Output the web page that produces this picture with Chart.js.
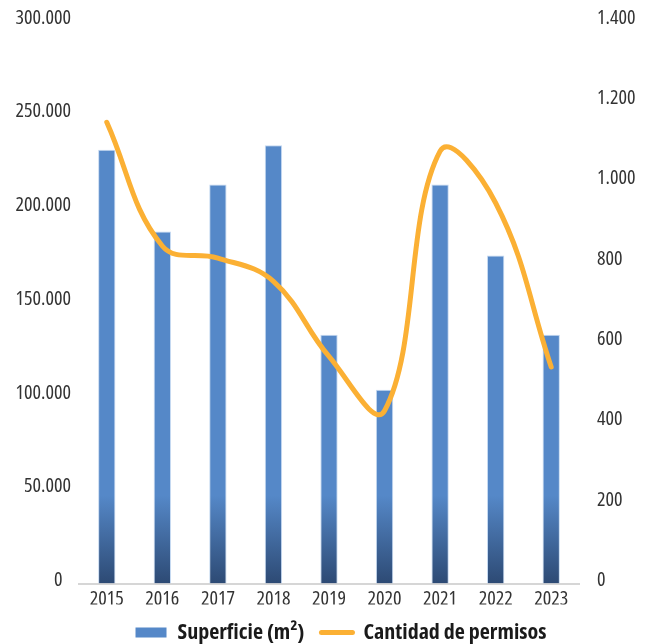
<!DOCTYPE html>
<html>
<head>
<meta charset="utf-8">
<script src="https://cdn.jsdelivr.net/npm/chart.js@4"></script>
<style>
  html, body { margin: 0; padding: 0; background: #ffffff; }
  #wrap { position: relative; width: 652px; height: 644px; }
</style>
</head>
<body>
<div id="wrap"><canvas id="c" width="652" height="644"></canvas></div>
<script>
const years = ['2015','2016','2017','2018','2019','2020','2021','2022','2023'];
const superficie = [231400, 187800, 212800, 233700, 132700, 103300, 212800, 175000, 132700];
const permisos = [1148, 840, 810, 752, 565, 430, 1076, 947, 539];
const leftTicks = [0, 50000, 100000, 150000, 200000, 250000, 300000];
const rightTicks = [0, 200, 400, 600, 800, 1000, 1200, 1400];
const seriesNames = ['Superficie (m²)', 'Cantidad de permisos'];

const FONT = '"Open Sans", "DejaVu Sans Condensed", sans-serif';
const fmt = v => v === 0 ? '0\u2007' : v.toLocaleString('de-DE');
const fmtR = v => v.toLocaleString('de-DE');

function barGradient(ctx) {
  const chart = ctx.chart;
  if (!chart.chartArea) return '#5588C8';
  const y0 = chart.scales.y.getPixelForValue(0);
  const g = chart.ctx.createLinearGradient(0, y0, 0, y0 - 88);
  g.addColorStop(0, '#2D4A74');
  g.addColorStop(1, '#5588C8');
  return g;
}

const legendTweak = {
  id: 'legendTweak',
  beforeLayout(chart) {
    const lg = chart.legend;
    if (lg && !lg._wrappedFit) {
      const f = lg.fit.bind(lg);
      lg.fit = function () { f(); this.height = 39.5; };
      lg._wrappedFit = true;
    }
  },
  afterLayout(chart) {
    const lg = chart.legend;
    if (lg) { lg.left += 15; lg.right += 15; }
  }
};

const tickFont = { family: FONT, size: 20, weight: 'condensed' };

new Chart(document.getElementById('c'), {
  data: {
    labels: years,
    datasets: [
      {
        type: 'bar',
        label: seriesNames[0],
        data: superficie,
        yAxisID: 'y',
        backgroundColor: barGradient,
        borderColor: 'rgba(150,185,230,0.55)',
        borderWidth: 1,
        barPercentage: 0.312,
        categoryPercentage: 1,
        order: 1
      },
      {
        type: 'line',
        label: seriesNames[1],
        data: permisos,
        yAxisID: 'y1',
        borderColor: '#FBB034',
        backgroundColor: '#FBB034',
        borderWidth: 5,
        borderCapStyle: 'round',
        borderJoinStyle: 'round',
        tension: 0.4,
        pointRadius: 0,
        fill: false,
        order: 0
      }
    ]
  },
  plugins: [legendTweak],
  options: {
    responsive: false,
    animation: false,
    devicePixelRatio: 1,
    layout: { padding: { left: 0, right: 0, top: 21, bottom: 0 } },
    plugins: {
      tooltip: { enabled: false },
      legend: {
        position: 'bottom',
        labels: {
          sort: (a, b) => a.datasetIndex - b.datasetIndex,
          usePointStyle: true,
          pointStyleWidth: 31,
          boxWidth: 31,
          boxHeight: 10,
          padding: 17,
          color: '#1a1a1a',
          font: { family: FONT, size: 22, weight: 'bold condensed' },
          generateLabels: (chart) => {
            const items = Chart.defaults.plugins.legend.labels.generateLabels(chart);
            items.forEach(it => {
              if (it.datasetIndex === 0) {
                it.pointStyle = 'rect';
                it.fillStyle = '#5588C8';
                it.strokeStyle = '#5588C8';
                it.lineWidth = 0;
              } else {
                it.pointStyle = 'line';
                it.strokeStyle = '#FBB034';
                it.lineWidth = 5;
                it.lineCap = 'round';
              }
            });
            return items;
          }
        }
      }
    },
    scales: {
      x: {
        type: 'category',
        offset: true,
        grid: { display: false, drawTicks: false },
        border: { display: true, color: '#d6d6d6', width: 2 },
        ticks: { color: '#333333', padding: 4, font: tickFont, maxRotation: 0, autoSkip: false },
        afterFit: s => { s.height = 21; s.paddingLeft = 0; s.paddingRight = 0; }
      },
      y: {
        position: 'left',
        min: 0, max: 300000,
        afterBuildTicks: s => { s.ticks = leftTicks.map(v => ({ value: v })); },
        grid: { display: false, drawTicks: false },
        border: { display: false },
        ticks: { color: '#333333', padding: 8, labelOffset: -3, font: tickFont, callback: v => fmt(v) },
        afterFit: s => { s.width = 79; s.paddingTop = 0; s.paddingBottom = 0; }
      },
      y1: {
        position: 'right',
        min: 0, max: 1400,
        afterBuildTicks: s => { s.ticks = rightTicks.map(v => ({ value: v })); },
        grid: { display: false, drawTicks: false },
        border: { display: false },
        ticks: { color: '#333333', padding: 18, labelOffset: -3, font: tickFont, callback: v => fmtR(v) },
        afterFit: s => { s.width = 73; s.paddingTop = 0; s.paddingBottom = 0; }
      }
    }
  }
});
</script>
</body>
</html>
